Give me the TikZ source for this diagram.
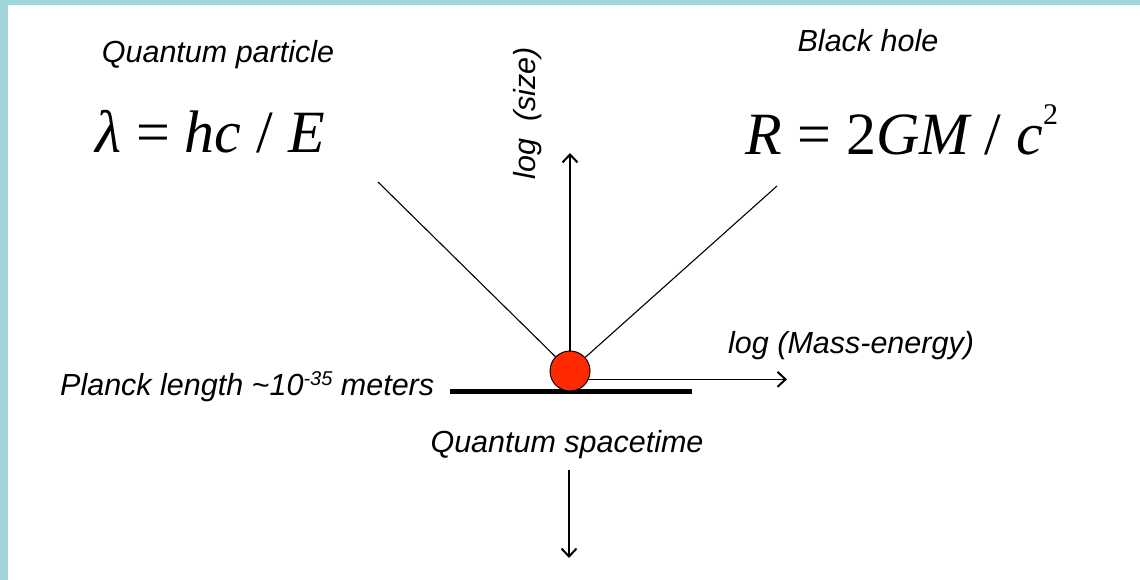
\documentclass[tikz,border=0pt]{standalone}
\usepackage{xcolor}
\usepackage{fontspec}
\usepackage{tikz}
\usetikzlibrary{arrows.meta, positioning, calc}
\setmainfont{Liberation Sans}
\newfontfamily\eqfont{Liberation Serif}
\definecolor{slideblue}{HTML}{A0D5D9}
\definecolor{dotred}{HTML}{FF2A00}
\tikzset{
  % italic captions
  lbl/.style={font=\fontsize{30.5}{34}\selectfont\itshape, inner sep=0pt},
  % big formulas
  formula/.style={font=\fontsize{60}{64}\selectfont\eqfont, inner sep=0pt},
  % lines from the dot
  ray/.style={draw=black, line width=1.1pt},
  axis/.style={-{Straight Barb[length=8pt,width=15pt,line width=2pt]},
               draw=black, line width=1.2pt},
  % the red particle
  particle/.style={circle, draw=black, line width=1pt, fill=dotred,
                   minimum size=40pt, inner sep=0pt},
}

\begin{document}
\begin{tikzpicture}[x=1pt, y=-1pt]

% ── Frame ────────────────────────────────────────────────────────────────────
\useasboundingbox (0,0) rectangle (1140,580);
\fill[white] (0,0) rectangle (1140,580);
\fill[slideblue] (0,0) rectangle (7.5,580);
\fill[slideblue] (0,0) rectangle (1140,5);

% ── Top: two regimes ─────────────────────────────────────────────────────────
\node[lbl, anchor=base] (qpart) at (218,63) {Quantum particle};
\node[formula, anchor=base] (lam) at (210,153)
  {\itshape λ {\upshape =} hc {\upshape /} E};

\node[lbl, anchor=base] (bhole) at (868,52) {Black hole};
\node[formula, anchor=base] (schw) at (902,155)
  {\itshape R {\upshape = 2}GM {\upshape /} c\raisebox{30pt}{\fontsize{30}{30}\selectfont\upshape 2}};

\node[lbl, rotate=90] (sizelbl) at (528,113) {log~~(size)};

% ── Planck scale ─────────────────────────────────────────────────────────────
\node[fill=black, minimum width=242pt, minimum height=5pt, inner sep=0pt]
  (bar) at (571,391) {};
\node[particle] (dot) at (570,371) {};

\node[lbl, anchor=base west] (planck) at (60,395)
  {Planck length \textasciitilde 10\raisebox{10pt}{\fontsize{20}{20}\selectfont -35} meters};
\node[lbl, anchor=base west] (masslbl) at (728,353) {log (Mass-energy)};
\node[lbl, anchor=base] (qspace) at (567,452) {Quantum spacetime};

% ── Connectors ───────────────────────────────────────────────────────────────
\coordinate (qend) at (378,182);
\coordinate (bend) at (777,186);
\coordinate (ytip) at (568,153);
\coordinate (xtip) at (787,379);
\coordinate (dtop) at (569,470);
\coordinate (dbot) at (569,558);

\draw[ray] (qend) -- (dot);
\draw[ray] (bend) -- (dot);
\draw[axis] (dot.north) -- (dot.north |- ytip);
\draw[axis] (dot.-24) -- (dot.-24 -| xtip);
\draw[axis] (dtop) -- (dbot);

\end{tikzpicture}
\end{document}
